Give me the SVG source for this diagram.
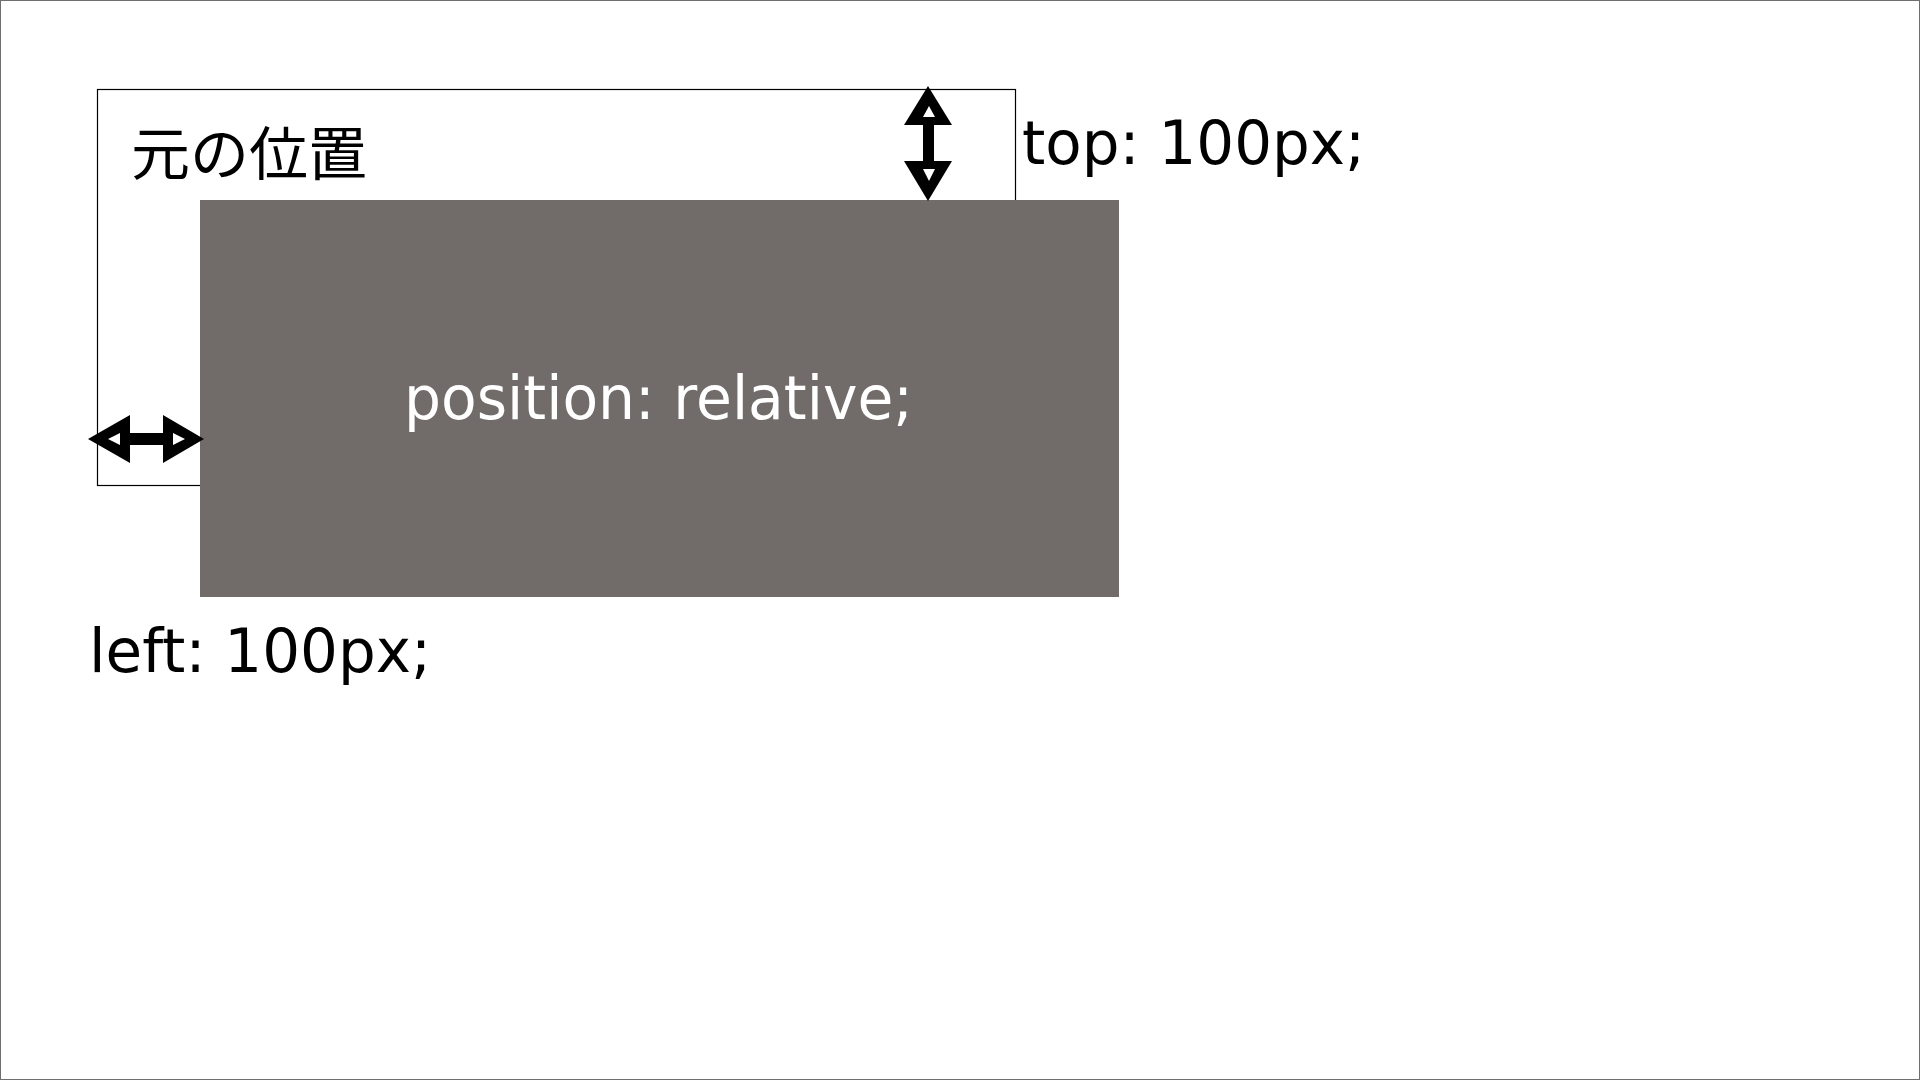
<svg xmlns="http://www.w3.org/2000/svg" width="1920" height="1080" viewBox="0 0 1920 1080">
<style>
.lbl{font-family:"DejaVu Sans","Noto Sans",sans-serif;font-size:61px;fill:#000}
.jp{font-family:"Noto Sans CJK JP","DejaVu Sans",sans-serif;font-size:58px;fill:#000}
.inner{font-family:"DejaVu Sans","Noto Sans",sans-serif;font-size:61px;fill:#fff}
</style>
<rect x="0.5" y="0.5" width="1919" height="1079" fill="#fff" stroke="#6e6e6e" stroke-width="1"/>
<g id="original">
<rect x="97.5" y="89.5" width="918" height="396" fill="#fff" stroke="#000" stroke-width="1.2"/>
<text class="jp" x="131" y="175" textLength="236" lengthAdjust="spacingAndGlyphs">元の位置</text>
</g>
<g id="relative">
<rect x="200" y="200" width="919" height="397" fill="#716b6a"/>
<text class="inner" x="404" y="419" textLength="509" lengthAdjust="spacingAndGlyphs">position: relative;</text>
</g>
<g id="connectors">
<g id="arrow-top">
<polygon points="928,86 952,125 934,125 934,161 952,161 928,201 904,161 923,161 923,125 904,125" fill="#000"/>
<polygon points="929,106 935,117 923,117" fill="#fff"/>
<polygon points="923,169 935,169 929,181" fill="#fff"/>
</g>
<g id="arrow-left">
<polygon points="88,439 130,415 130,433 163,433 163,415 204,439 163,463 163,445 130,445 130,463" fill="#000"/>
<polygon points="108,439 120,433 120,445" fill="#fff"/>
<polygon points="173,433 185,439 173,445" fill="#fff"/>
</g>
</g>
<g id="label-top">
<text class="lbl" x="1022" y="164" textLength="343" lengthAdjust="spacingAndGlyphs">top: 100px;</text>
</g>
<g id="label-left">
<text class="lbl" x="89" y="672" textLength="342" lengthAdjust="spacingAndGlyphs">left: 100px;</text>
</g>
</svg>
